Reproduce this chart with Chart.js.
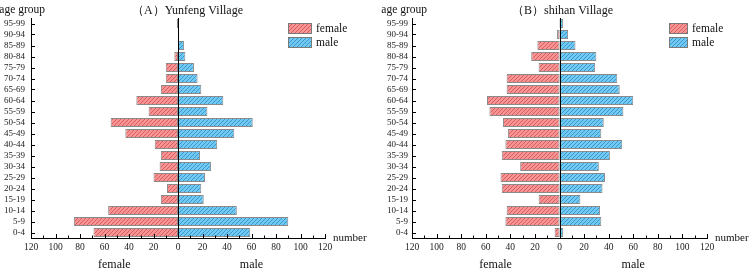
<!DOCTYPE html>
<html>
<head>
<meta charset="utf-8">
<script src="https://cdn.jsdelivr.net/npm/chart.js@4.4.1/dist/chart.umd.min.js"></script>
<style>
  html, body { margin: 0; padding: 0; background: #fff; }
  .wrap { display: flex; width: 750px; height: 269px; }
  .wrap div { width: 375px; height: 269px; position: relative; }
</style>
</head>
<body>
<div class="wrap">
  <div><canvas id="chartA" width="375" height="269"></canvas></div>
  <div><canvas id="chartB" width="375" height="269"></canvas></div>
</div>
<script>
"use strict";

// age groups, youngest first (drawn bottom to top)
const ageGroups = ["0-4", "5-9", "10-14", "15-19", "20-24", "25-29", "30-34", "35-39", "40-44", "45-49",
    "50-54", "55-59", "60-64", "65-69", "70-74", "75-79", "80-84", "85-89", "90-94", "95-99"];

// (A) Yunfeng Village
const yunfengFemale = [69, 85, 57, 14, 9, 20, 15, 14, 19, 43, 55, 24, 34, 14, 10, 10, 3, 0, 0, 1];
const yunfengMale = [59, 90, 48, 21, 19, 22, 27, 18, 32, 46, 61, 24, 37, 19, 16, 13, 6, 5, 1, 0];

// (B) shihan Village
const shihanFemale = [4, 44, 43, 17, 47, 48, 32, 47, 44, 42, 46, 57, 59, 43, 43, 17, 23, 18, 2, 0];
const shihanMale = [3, 34, 33, 17, 35, 37, 32, 41, 51, 34, 36, 52, 60, 49, 47, 29, 30, 13, 7, 3];

const xTicks = [-120, -100, -80, -60, -40, -20, 0, 20, 40, 60, 80, 100, 120];

const SERIF = "'Liberation Serif', 'Times New Roman', serif";

function hatch(base, line) {
    const c = document.createElement("canvas");
    c.width = 4;
    c.height = 4;
    const g = c.getContext("2d");
    g.fillStyle = base;
    g.fillRect(0, 0, 4, 4);
    g.strokeStyle = line;
    g.lineWidth = 1;
    g.beginPath();
    g.moveTo(0, 4); g.lineTo(4, 0);
    g.moveTo(-1, 1); g.lineTo(1, -1);
    g.moveTo(3, 5); g.lineTo(5, 3);
    g.stroke();
    return g.createPattern(c, "repeat");
}

const femaleFill = hatch("#f49494", "#dc5c5c");
const maleFill = hatch("#74c9f1", "#3399d4");

// titles, legend, inward ticks, zero line
const decorPlugin = {
    id: "decor",
    afterDatasetsDraw(chart) {
        const ctx = chart.ctx;
        const xs = chart.scales.x;
        const ys = chart.scales.y;
        const area = chart.chartArea;
        const o = chart.options.plugins.decor;
        ctx.save();

        // zero line
        const x0 = Math.round(xs.getPixelForValue(0)) + 0.5;
        ctx.strokeStyle = "#000";
        ctx.lineWidth = 1;
        ctx.beginPath();
        ctx.moveTo(x0, area.top);
        ctx.lineTo(x0, area.bottom);
        ctx.stroke();

        // x ticks pointing up
        ctx.beginPath();
        for (let v = -120; v <= 120; v += 10) {
            const px = Math.round(xs.getPixelForValue(v)) + 0.5;
            const len = v % 20 === 0 ? 4 : 2.5;
            ctx.moveTo(px, area.bottom);
            ctx.lineTo(px, area.bottom - len);
        }
        // y ticks pointing right
        ageGroups.forEach((g, i) => {
            const py = Math.round(ys.getPixelForValue(i)) + 0.5;
            ctx.moveTo(area.left, py);
            ctx.lineTo(area.left + 4, py);
        });
        ctx.stroke();

        // texts
        ctx.fillStyle = "#111";
        ctx.font = "12px " + SERIF;
        ctx.textBaseline = "alphabetic";
        ctx.textAlign = "center";
        ctx.fillText(o.title, chart.width / 2, 14);
        ctx.font = "11.5px " + SERIF;
        ctx.textAlign = "right";
        ctx.fillText("age group", o.ageRight, 13);
        ctx.font = "11px " + SERIF;
        ctx.textAlign = "left";
        ctx.fillText("number", area.right + 8, 241);
        ctx.font = "12px " + SERIF;
        ctx.textAlign = "center";
        ctx.textBaseline = "top";
        ctx.fillText("female", xs.getPixelForValue(-52), 259);
        ctx.fillText("male", xs.getPixelForValue(60), 259);

        // legend
        const lx = o.legendX;
        const lw = o.legendW;
        [["female", femaleFill, 23], ["male", maleFill, 37]].forEach(([name, fill, ly]) => {
            ctx.fillStyle = fill;
            ctx.fillRect(lx, ly, lw, 11);
            ctx.strokeStyle = "#7a7a7a";
            ctx.strokeRect(lx + 0.5, ly + 0.5, lw - 1, 10);
            ctx.fillStyle = "#111";
            ctx.font = "11.5px " + SERIF;
            ctx.textAlign = "left";
            ctx.textBaseline = "middle";
            ctx.fillText(name, lx + lw + 4, ly + 6);
        });
        ctx.restore();
    }
};

function makeChart(id, title, female, male, opts) {
    return new Chart(document.getElementById(id).getContext("2d"), {
        type: "bar",
        data: {
            labels: ageGroups,
            datasets: [{
                label: "female",
                data: female.map((v) => -v),
                backgroundColor: femaleFill,
                borderColor: "#8a8a8a",
                borderWidth: 1,
                borderSkipped: false
            }, {
                label: "male",
                data: male,
                backgroundColor: maleFill,
                borderColor: "#8a8a8a",
                borderWidth: 1,
                borderSkipped: false
            }]
        },
        options: {
            indexAxis: "y",
            responsive: false,
            animation: false,
            datasets: { bar: { barPercentage: 0.82, categoryPercentage: 1 } },
            layout: { padding: { left: 0, top: 18, right: opts.padRight, bottom: 0 } },
            scales: {
                x: {
                    stacked: true,
                    min: -120,
                    max: 120,
                    afterBuildTicks(scale) {
                        scale.ticks = xTicks.map((v) => ({ value: v }));
                    },
                    afterFit(scale) { scale.height = 31; },
                    grid: { display: false, drawTicks: false },
                    border: { display: true, color: "#000", width: 1 },
                    ticks: {
                        padding: 4,
                        color: "#222",
                        font: { family: SERIF, size: 9.5 },
                        callback: (v) => Math.abs(v)
                    }
                },
                y: {
                    stacked: true,
                    reverse: true,
                    afterFit(scale) { scale.width = opts.yWidth; },
                    grid: { display: false, drawTicks: false },
                    border: { display: true, color: "#000", width: 1 },
                    ticks: {
                        padding: opts.yPad,
                        color: "#222",
                        autoSkip: false,
                        font: { family: SERIF, size: 9 }
                    }
                }
            },
            plugins: {
                legend: { display: false },
                tooltip: { enabled: false },
                decor: {
                    title: title,
                    ageRight: opts.ageRight,
                    legendX: opts.legendX,
                    legendW: opts.legendW
                }
            }
        },
        plugins: [decorPlugin]
    });
}

makeChart("chartA", "（A）Yunfeng Village", yunfengFemale, yunfengMale,
    { padRight: 50, yWidth: 31, yPad: 6, ageRight: 45, legendX: 288, legendW: 24 });
makeChart("chartB", "（B）shihan Village", shihanFemale, shihanMale,
    { padRight: 43, yWidth: 37, yPad: 4, ageRight: 52, legendX: 294, legendW: 19 });
</script>
</body>
</html>
